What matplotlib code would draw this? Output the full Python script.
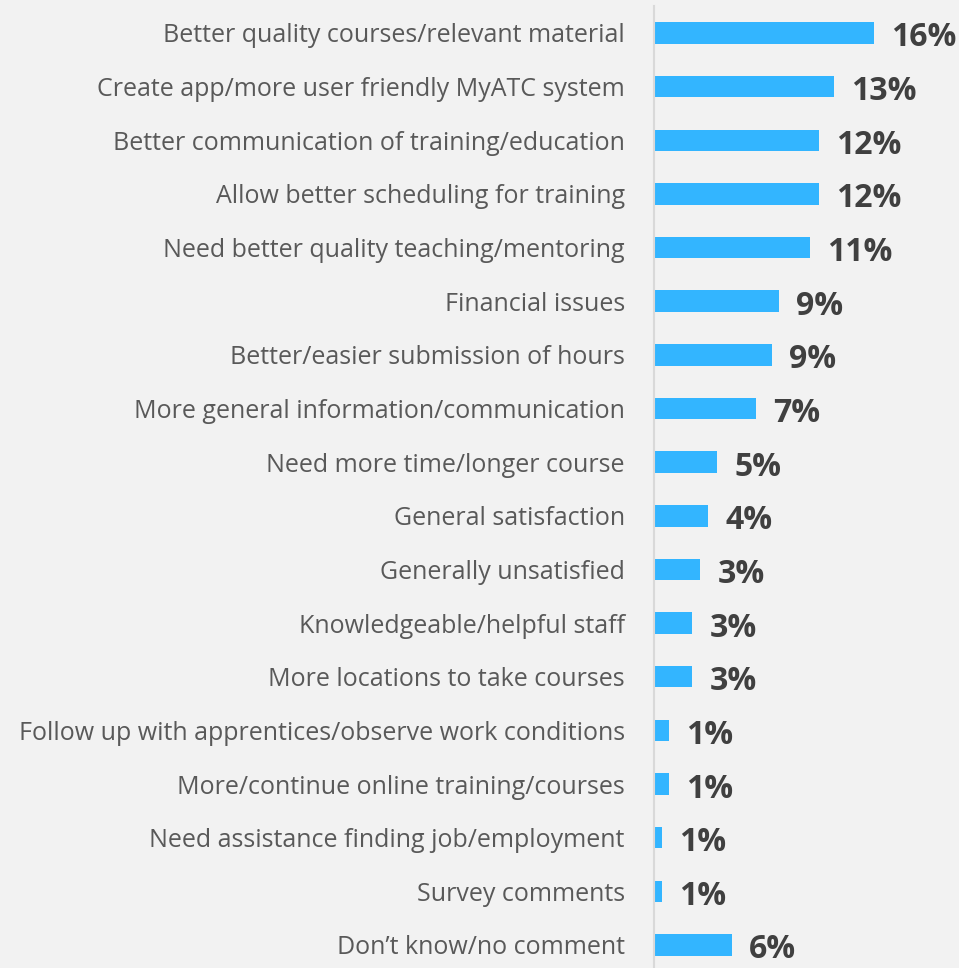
import matplotlib
matplotlib.use("Agg")
import matplotlib.pyplot as plt

categorias = [
    "Better quality courses/relevant material",
    "Create app/more user friendly MyATC system",
    "Better communication of training/education",
    "Allow better scheduling for training",
    "Need better quality teaching/mentoring",
    "Financial issues",
    "Better/easier submission of hours",
    "More general information/communication",
    "Need more time/longer course",
    "General satisfaction",
    "Generally unsatisfied",
    "Knowledgeable/helpful staff",
    "More locations to take courses",
    "Follow up with apprentices/observe work conditions",
    "More/continue online training/courses",
    "Need assistance finding job/employment",
    "Survey comments",
    "Don\u2019t know/no comment",
]
# porcentaje de respuestas (sin redondear)
valores = [16.0, 13.1, 12.0, 12.0, 11.35, 9.1, 8.54, 7.4, 4.6, 3.94,
           3.36, 2.78, 2.78, 1.06, 1.06, 0.55, 0.55, 5.64]

W, H = 959, 968
fig = plt.figure(figsize=(W / 100, H / 100), dpi=100)
fig.patch.set_facecolor("#f2f2f2")

# ejes colocados en pixeles: la linea vertical queda en x=654
ax = fig.add_axes([654 / W, 0, (W - 654) / W, 1 - 6 / H])
ax.set_facecolor("#f2f2f2")

pos = list(range(len(categorias)))
ax.barh(pos, valores, height=0.40, color="#33b5ff")
ax.set_xlim(0, (W - 654) / 13.77)
ax.set_ylim(17.43, -0.503)

for spine in ["top", "right", "bottom"]:
    ax.spines[spine].set_visible(False)
ax.spines["left"].set_color("#d9d9d9")
ax.spines["left"].set_linewidth(1.5)
ax.set_xticks([])
ax.set_yticks(pos)
ax.set_yticklabels(categorias, fontsize=18, color="#595959", family="Open Sans")
ax.tick_params(axis="y", length=0, pad=21)

for y, v in zip(pos, valores):
    etiqueta = f"{int(v + 0.5)}%"
    ax.annotate(etiqueta, (v, y), xytext=(17, -5), textcoords="offset pixels",
                va="center", ha="left", fontsize=23, fontweight="bold",
                color="#404040", family="Open Sans")

fig.savefig("out.png", dpi=100, facecolor=fig.get_facecolor())
